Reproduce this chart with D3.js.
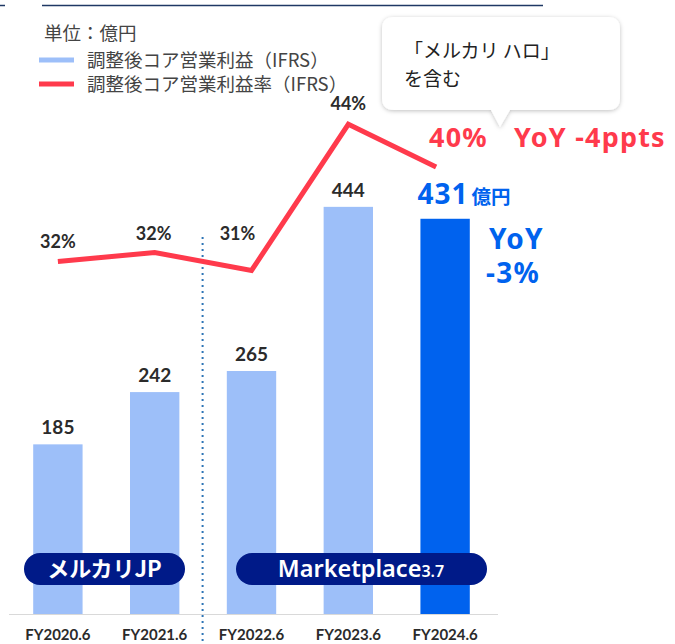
<!DOCTYPE html>
<html><head><meta charset="utf-8">
<script src="https://cdn.jsdelivr.net/npm/d3@7"></script>
<style>
body{margin:0;background:#fff;}
svg{display:block;font-family:"Noto Sans CJK JP","Noto Sans",sans-serif;}
.lato{font-family:Lato,"Noto Sans CJK JP",sans-serif;}
.ns{font-family:"Noto Sans","Noto Sans CJK JP",sans-serif;}
</style></head>
<body>
<svg id="c" width="675" height="644"></svg>
<script>
const categories = ["FY2020.6","FY2021.6","FY2022.6","FY2023.6","FY2024.6"];
const profit = [185, 242, 265, 444, 431];
const margin = [31.6, 32.4, 30.8, 43.8, 40.0];
const profitLabels = ["185","242","265","444","431"];
const marginLabels = ["32%","32%","31%","44%","40%"];
const legendItems = ["調整後コア営業利益（IFRS）","調整後コア営業利益率（IFRS）"];

const svg = d3.select("#c");
const base = 614;
const x = d3.scaleBand().domain(categories).range([9, 494]).paddingInner(0.49).paddingOuter(0.25);
const yBar = d3.scaleLinear().domain([0, 500]).range([base, 155.5]);
const yLine = d3.scaleLinear().domain([0, 50]).range([617, 54.5]);
const cx = c => x(c) + x.bandwidth()/2;

const lightBlue = "#9dbff9", darkBlue = "#0062ee", red = "#ff3a4c", navy = "#001a88", txt = "#2b2b2b";

// top rules
svg.append("line").attr("x1",0).attr("x2",5).attr("y1",5.5).attr("y2",5.5).attr("stroke","#1f3864").attr("stroke-width",1.5);
svg.append("line").attr("x1",42).attr("x2",543).attr("y1",5.5).attr("y2",5.5).attr("stroke","#1f3864").attr("stroke-width",1.5);

// legend
svg.append("text").attr("x",44).attr("y",40).attr("font-size",18.5).attr("fill","#444").text("単位：億円");
[lightBlue, red].forEach((col,i)=>{
  const yy = 60 + i*24;
  svg.append("line").attr("x1",39).attr("x2",74).attr("y1",yy).attr("y2",yy).attr("stroke",col).attr("stroke-width",5);
  svg.append("text").attr("x",87).attr("y",yy+6.5).attr("font-size",18.5).attr("fill","#444").text(legendItems[i]);
});

// axis baseline
svg.append("line").attr("x1",9).attr("x2",498).attr("y1",base+0.5).attr("y2",base+0.5).attr("stroke","#d9d9d9").attr("stroke-width",1);

// bars
svg.selectAll("rect.bar").data(categories).join("rect").attr("class","bar")
  .attr("x",d=>x(d)).attr("width",x.bandwidth())
  .attr("y",(d,i)=>yBar(profit[i])).attr("height",(d,i)=>base-yBar(profit[i]))
  .attr("fill",(d,i)=>i===4?darkBlue:lightBlue);

// dotted separator
const sepX = (x(categories[1])+x.bandwidth()+x(categories[2]))/2 - 0.5;
svg.append("line").attr("x1",sepX).attr("x2",sepX).attr("y1",237).attr("y2",644)
  .attr("stroke","#2e75b6").attr("stroke-width",2).attr("stroke-dasharray","2,4");

// bar labels
svg.selectAll("text.bl").data(categories.slice(0,4)).join("text").attr("class","bl lato")
  .attr("x",d=>cx(d)).attr("y",(d,i)=>yBar(profit[i])-10)
  .attr("text-anchor","middle").attr("font-size",19).attr("font-weight","bold").attr("fill",txt)
  .text((d,i)=>profitLabels[i]);

// last bar label
const lb = svg.append("text").attr("class","ns").attr("x",x(categories[4])-3).attr("y",yBar(profit[4])-15).attr("fill",darkBlue).attr("font-weight","bold");
lb.append("tspan").attr("font-size",28).attr("letter-spacing",1).text(profitLabels[4]);
lb.append("tspan").attr("font-size",19.5).attr("dx",3).attr("font-family","Noto Sans CJK JP").text("億円");
const yoy = svg.append("text").attr("class","ns").attr("fill",darkBlue).attr("font-weight","bold").attr("font-size",28).attr("letter-spacing",1.2);
yoy.append("tspan").attr("x",489).attr("y",249).text("YoY");
yoy.append("tspan").attr("x",486).attr("y",283).text("-3%");

// line
const pts = categories.map((c,i)=>({c, v:margin[i]}));
pts[4].xo = -9;
svg.append("path").datum(pts).attr("d", d3.line().x(d=>cx(d.c)+(d.xo||0)).y(d=>yLine(d.v)))
  .attr("fill","none").attr("stroke",red).attr("stroke-width",5).attr("stroke-linejoin","miter");

// line labels
const llOff = [14, 13, 31, 14];
svg.selectAll("text.ll").data(categories.slice(0,4)).join("text").attr("class","ll lato")
  .attr("x",(d,i)=>cx(d)+[0,-1,-14,0][i]).attr("y",(d,i)=>yLine(margin[i])-llOff[i])
  .attr("text-anchor","middle").attr("font-size",18).attr("font-weight","bold").attr("fill",txt)
  .text((d,i)=>marginLabels[i]);
const rl = svg.append("text").attr("class","ns").attr("y",147).attr("fill",red).attr("font-weight","bold").attr("font-size",27).attr("letter-spacing",1.2);
rl.append("tspan").attr("x",429).text(marginLabels[4]);
rl.append("tspan").attr("x",514).text("YoY -4ppts");

// callout
const defs = svg.append("defs");
const f = defs.append("filter").attr("id","sh").attr("x","-10%").attr("y","-10%").attr("width","120%").attr("height","130%");
f.append("feDropShadow").attr("dx",0).attr("dy",1).attr("stdDeviation",2).attr("flood-color","#000").attr("flood-opacity",0.25);
const bx0=382, bx1=620, by0=17, by1=110, r=12;
const cp = `M${bx0+r},${by0} H${bx1-r} Q${bx1},${by0} ${bx1},${by0+r} V${by1-r} Q${bx1},${by1} ${bx1-r},${by1} H510 L500,127 L491,${by1} H${bx0+r} Q${bx0},${by1} ${bx0},${by1-r} V${by0+r} Q${bx0},${by0} ${bx0+r},${by0} Z`;
svg.append("path").attr("d",cp).attr("fill","#fff").attr("filter","url(#sh)");
const ct = svg.append("text").attr("font-size",19).attr("fill","#222");
ct.append("tspan").attr("x",404).attr("y",58).text("「メルカリ ハロ」");
ct.append("tspan").attr("x",404).attr("y",86).text("を含む");

// badges
function pill(x0,x1,y0,y1){
  svg.append("rect").attr("x",x0).attr("y",y0).attr("width",x1-x0).attr("height",y1-y0)
    .attr("rx",(y1-y0)/2).attr("fill",navy);
}
pill(24,185,553,585);
svg.append("text").attr("x",104.5).attr("y",577).attr("text-anchor","middle").attr("font-size",22).attr("font-weight","bold").attr("fill","#fff").text("メルカリJP");
pill(236,487,553,585);
const mp = svg.append("text").attr("class","ns").attr("x",361).attr("y",577).attr("text-anchor","middle").attr("fill","#fff").attr("font-weight",600);
mp.append("tspan").attr("font-size",23.5).text("Marketplace");
mp.append("tspan").attr("font-size",16).text("3.7");

// category labels
svg.selectAll("text.cat").data(categories).join("text").attr("class","cat lato")
  .attr("x",d=>cx(d)).attr("y",640).attr("text-anchor","middle")
  .attr("font-size",15).attr("font-weight","bold").attr("fill",txt).text(d=>d);
</script>
</body></html>
